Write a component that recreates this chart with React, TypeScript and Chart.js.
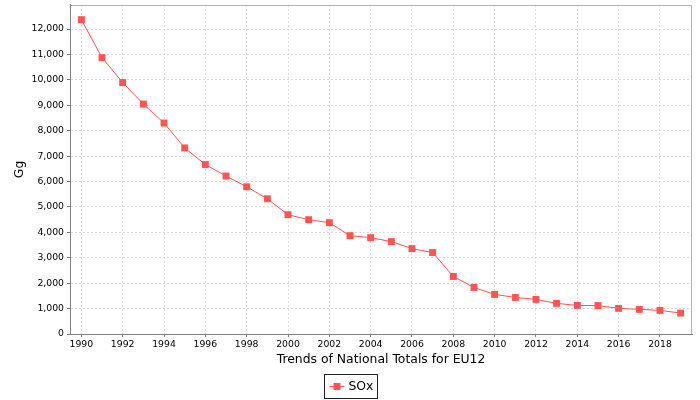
import { useEffect, useRef } from "react";
import { Chart, registerables } from "chart.js";

Chart.register(...registerables);

const years = [
  1990, 1991, 1992, 1993, 1994, 1995, 1996, 1997, 1998, 1999,
  2000, 2001, 2002, 2003, 2004, 2005, 2006, 2007, 2008, 2009,
  2010, 2011, 2012, 2013, 2014, 2015, 2016, 2017, 2018, 2019,
];
const soxValues = [
  12370, 10875, 9894, 9047, 8302, 7322, 6667, 6216, 5792, 5321,
  4694, 4498, 4380, 3870, 3792, 3635, 3361, 3204, 2263, 1831,
  1557, 1439, 1361, 1204, 1125, 1120, 1008, 969, 929, 824,
];
const xTickValues = [
  1990, 1992, 1994, 1996, 1998, 2000, 2002, 2004, 2006, 2008,
  2010, 2012, 2014, 2016, 2018,
];
const yTickValues = [
  0, 1000, 2000, 3000, 4000, 5000, 6000, 7000, 8000, 9000, 10000, 11000, 12000,
];
const seriesLabel = "SOx";
const xTitle = "Trends of National Totals for EU12";
const yTitle = "Gg";
const xMin = 1989.45;
const xMax = 2019.55;
const yMin = 0;
const yMax = 12950;

const FONT = "'DejaVu Sans', sans-serif";
const RED = "#ff5555";

const frameLegendPlugin = {
  id: "frameLegend",
  afterDraw(chart: any) {
    const { ctx, chartArea } = chart;
    ctx.save();
    // top and right outline of plot
    ctx.strokeStyle = "#b4b4b4";
    ctx.lineWidth = 1;
    ctx.beginPath();
    ctx.moveTo(Math.round(chartArea.left) + 0.5, Math.round(chartArea.top) + 0.5);
    ctx.lineTo(Math.round(chartArea.right) - 0.5, Math.round(chartArea.top) + 0.5);
    ctx.lineTo(Math.round(chartArea.right) - 0.5, Math.round(chartArea.bottom));
    ctx.stroke();

    // legend
    ctx.font = `12.4px ${FONT}`;
    const tw = ctx.measureText(seriesLabel).width;
    const padL = 5, sym = 15, gap = 4, padR = 4;
    const w = padL + sym + gap + tw + padR;
    const h = 24;
    const x0 = Math.round(chart.width / 2 - w / 2) + 0.5;
    const y0 = 374.5;
    ctx.strokeStyle = "#222";
    ctx.strokeRect(x0, y0, Math.round(w), h);
    const cy = y0 + h / 2;
    ctx.strokeStyle = RED;
    ctx.beginPath();
    ctx.moveTo(x0 + padL, cy);
    ctx.lineTo(x0 + padL + sym, cy);
    ctx.stroke();
    ctx.fillStyle = RED;
    ctx.fillRect(x0 + padL + sym / 2 - 3.5, cy - 3.5, 7, 7);
    ctx.fillStyle = "#000";
    ctx.textBaseline = "middle";
    ctx.textAlign = "left";
    ctx.fillText(seriesLabel, x0 + padL + sym + gap, cy + 0.5);
    ctx.restore();
  },
};

export default function App() {
  const ref = useRef<HTMLCanvasElement | null>(null);

  useEffect(() => {
    document.body.style.margin = "0";
    if (!ref.current) return;
    const chart = new Chart(ref.current, {
      type: "line",
      data: {
        datasets: [
          {
            label: seriesLabel,
            data: years.map((x, i) => ({ x, y: soxValues[i] })),
            borderColor: RED,
            borderWidth: 1,
            backgroundColor: RED,
            pointStyle: "rect",
            pointRadius: 4.9,
            pointBorderWidth: 0,
            pointBackgroundColor: RED,
            tension: 0,
            fill: false,
          },
        ],
      },
      options: {
        animation: false,
        responsive: false,
        devicePixelRatio: 1,
        layout: { padding: { top: 4, right: 8, left: 0, bottom: 0 } },
        plugins: {
          legend: { display: false },
          tooltip: { enabled: false },
        },
        scales: {
          x: {
            type: "linear",
            min: xMin,
            max: xMax,
            afterBuildTicks: (s: any) => {
              s.ticks = xTickValues.map((value) => ({ value }));
            },
            afterFit: (s: any) => {
              s.height = 66;
              s.paddingLeft = 0;
              s.paddingRight = 0;
            },
            ticks: {
              autoSkip: false,
              maxRotation: 0,
              padding: 2,
              color: "#000",
              font: { family: FONT, size: 9.3 },
              callback: (v: any) => String(v),
            },
            grid: {
              color: "#dcdcdc",
              tickColor: "#808080",
              tickLength: 3,
              tickBorderDash: [],
            },
            border: { color: "#808080", width: 1, dash: [2, 2] },
            title: {
              display: true,
              text: xTitle,
              color: "#000",
              font: { family: FONT, size: 12.4 },
              padding: { top: 0, bottom: 33 },
            },
          },
          y: {
            type: "linear",
            min: yMin,
            max: yMax,
            afterBuildTicks: (s: any) => {
              s.ticks = yTickValues.map((value) => ({ value }));
            },
            afterFit: (s: any) => {
              s.width = 70;
              s.paddingTop = 0;
              s.paddingBottom = 0;
            },
            ticks: {
              padding: 3,
              color: "#000",
              font: { family: FONT, size: 9.3 },
              callback: (v: any) => Number(v).toLocaleString("en-US"),
            },
            grid: {
              color: "#dcdcdc",
              tickColor: "#808080",
              tickLength: 3,
              tickBorderDash: [],
            },
            border: { color: "#808080", width: 1, dash: [2, 2] },
            title: {
              display: true,
              text: yTitle,
              color: "#000",
              font: { family: FONT, size: 12.4 },
              padding: { top: 12, bottom: 0 },
            },
          },
        },
      },
      plugins: [frameLegendPlugin],
    } as any);
    return () => chart.destroy();
  }, []);

  return (
    <canvas
      ref={ref}
      width={700}
      height={400}
      style={{ display: "block", width: 700, height: 400 }}
    />
  );
}
